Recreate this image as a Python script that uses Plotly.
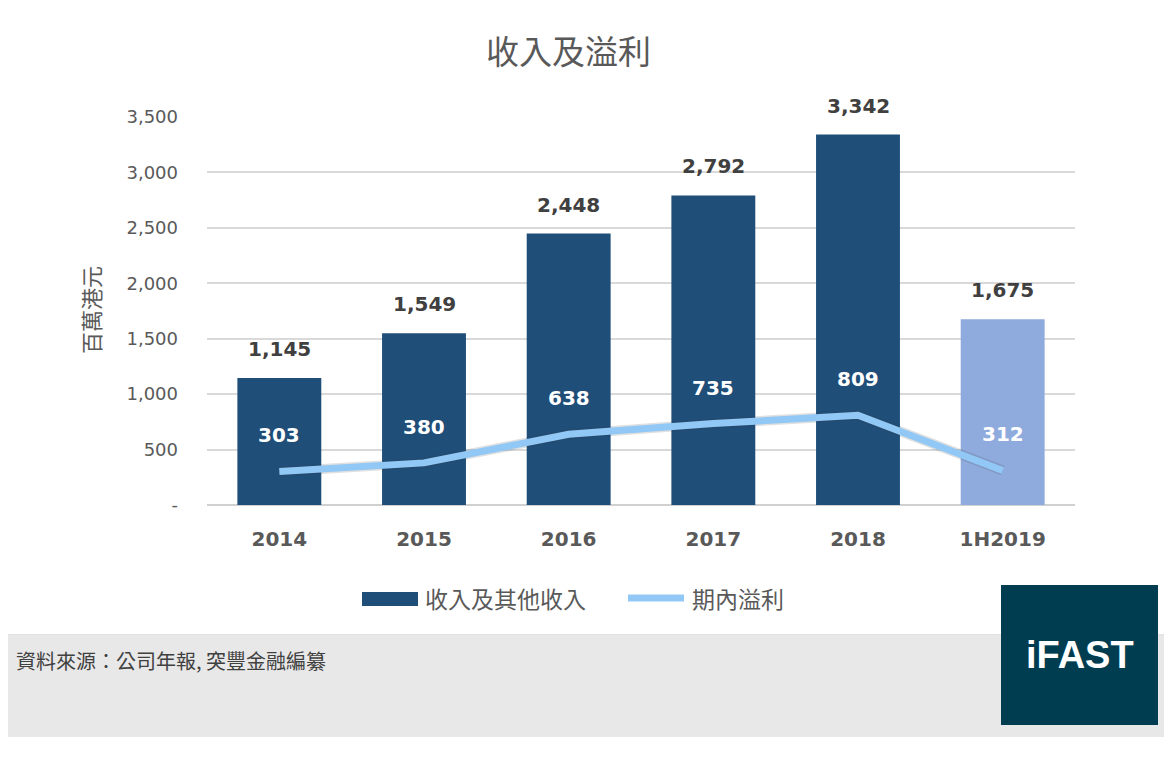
import plotly.graph_objects as go

# data (HK$ million)
periods = ["2014", "2015", "2016", "2017", "2018", "1H2019"]
revenue = [1145, 1549, 2448, 2792, 3342, 1675]
profit = [303, 380, 638, 735, 809, 312]
y_ticks = [0, 500, 1000, 1500, 2000, 2500, 3000, 3500]
y_tick_text = ["-", "500", "1,000", "1,500", "2,000", "2,500", "3,000", "3,500"]
series_names = ["收入及其他收入", "期內溢利"]

W, H = 1172, 757
OFF = 8  # page body margin, so the plot starts 8px in
CJK = "Noto Sans CJK TC, Noto Sans, sans-serif"
NUM = "DejaVu Sans, sans-serif"
GREY_TXT = "#595959"
BAR_DARK = "#1F4E79"
BAR_LIGHT = "#8FAADC"
LINE_BLUE = "#91C8F6"

bar_colors = [BAR_DARK] * (len(periods) - 1) + [BAR_LIGHT]


def px_x(v):
    return (v - OFF) / W


def px_y(v):
    return 1 - (v - OFF) / H


fig = go.Figure()

fig.add_trace(go.Bar(
    x=periods, y=revenue, name=series_names[0],
    marker=dict(color=bar_colors, line=dict(width=0)),
    width=0.58, showlegend=False,
    hoverinfo="skip",
))

# faint halo under the line, stands in for the drop shadow
fig.add_trace(go.Scatter(
    x=periods, y=profit, mode="lines", showlegend=False,
    line=dict(color="rgba(60,60,60,0.16)", width=10),
    hoverinfo="skip",
))
fig.add_trace(go.Scatter(
    x=periods, y=profit, name=series_names[1],
    mode="lines", showlegend=False,
    line=dict(color=LINE_BLUE, width=7),
    hoverinfo="skip",
))

# value labels; x given as category index (numeric-looking names confuse annotations)
annotations = []
for i, r in enumerate(revenue):
    annotations.append(dict(
        x=i, y=r, xref="x", yref="y", text=f"{r:,}", showarrow=False,
        xanchor="center", yanchor="middle", yshift=29,
        font=dict(family=NUM, size=20, color="#404040", weight="bold"),
    ))
for i, v in enumerate(profit):
    annotations.append(dict(
        x=i, y=v, xref="x", yref="y", text=f"{v:,}", showarrow=False,
        xanchor="center", yanchor="middle", yshift=36,
        font=dict(family=NUM, size=20, color="white", weight="bold"),
    ))

# title, axis name, source, legend labels and logo text
extra = [
    dict(x=px_x(568), y=px_y(50), text="收入及溢利",
         font=dict(family=CJK, size=33, color=GREY_TXT)),
    dict(x=px_x(90), y=px_y(310), text="百萬港元", textangle=-90,
         font=dict(family=CJK, size=22, color=GREY_TXT)),
    dict(x=px_x(14), y=px_y(660), xanchor="left",
         text="資料來源：公司年報, 突豐金融編纂",
         font=dict(family=CJK, size=20, color="#404040")),
    dict(x=px_x(423), y=px_y(598), xanchor="left", text=series_names[0],
         font=dict(family=CJK, size=23, color=GREY_TXT)),
    dict(x=px_x(690), y=px_y(598), xanchor="left", text=series_names[1],
         font=dict(family=CJK, size=23, color=GREY_TXT)),
    dict(x=px_x(1080), y=px_y(655), text="iFAST",
         font=dict(family="Liberation Sans, Arial, sans-serif", size=38,
                   color="white", weight="bold")),
]
for a in extra:
    a.setdefault("xanchor", "center")
    a.update(xref="paper", yref="paper", yanchor="middle", showarrow=False)
annotations += extra

shapes = [
    # chart frame
    dict(type="rect", xref="paper", yref="paper", x0=px_x(1), x1=px_x(1168), y0=px_y(1), y1=px_y(635),
         fillcolor="white", line=dict(color="#D9D9D9", width=1.5), layer="below"),
    # source band
    dict(type="rect", xref="paper", yref="paper", x0=px_x(0), x1=px_x(1180), y0=px_y(635), y1=px_y(737),
         fillcolor="#E8E8E8", line=dict(width=0), layer="below"),
    # legend swatches
    dict(type="rect", xref="paper", yref="paper", x0=px_x(362), x1=px_x(418), y0=px_y(606), y1=px_y(592),
         fillcolor=BAR_DARK, line=dict(width=0)),
    dict(type="line", xref="paper", yref="paper", x0=px_x(628), x1=px_x(684), y0=px_y(598), y1=px_y(598),
         line=dict(color=LINE_BLUE, width=7)),
    # logo box
    dict(type="rect", xref="paper", yref="paper", x0=px_x(1001), x1=px_x(1158), y0=px_y(585), y1=px_y(725),
         fillcolor="#013D50", line=dict(width=0), layer="above"),
]

fig.update_layout(
    width=W, height=H,
    margin=dict(l=0, r=0, t=0, b=0, autoexpand=False),
    paper_bgcolor="white", plot_bgcolor="rgba(0,0,0,0)",
    showlegend=False,
    annotations=annotations,
    shapes=shapes,
)

fig.update_xaxes(
    type="category",
    range=[-0.5, len(periods) - 0.5],
    domain=[px_x(207), px_x(1075)],
    showgrid=False, showline=False, zeroline=False,
    tickfont=dict(family=NUM, size=20, color=GREY_TXT, weight="bold"),
    ticklabelstandoff=20,
)
fig.update_yaxes(
    domain=[px_y(505), px_y(117)],
    range=[0, 3500],
    tickvals=y_ticks, ticktext=y_tick_text,
    showgrid=True, gridcolor="#D9D9D9", gridwidth=1.5,
    zeroline=True, zerolinecolor="#D0D0D0", zerolinewidth=1.5,
    showline=False,
    tickfont=dict(family=NUM, size=18, color=GREY_TXT),
    ticklabelstandoff=28,
)

fig.write_html("out.html")
